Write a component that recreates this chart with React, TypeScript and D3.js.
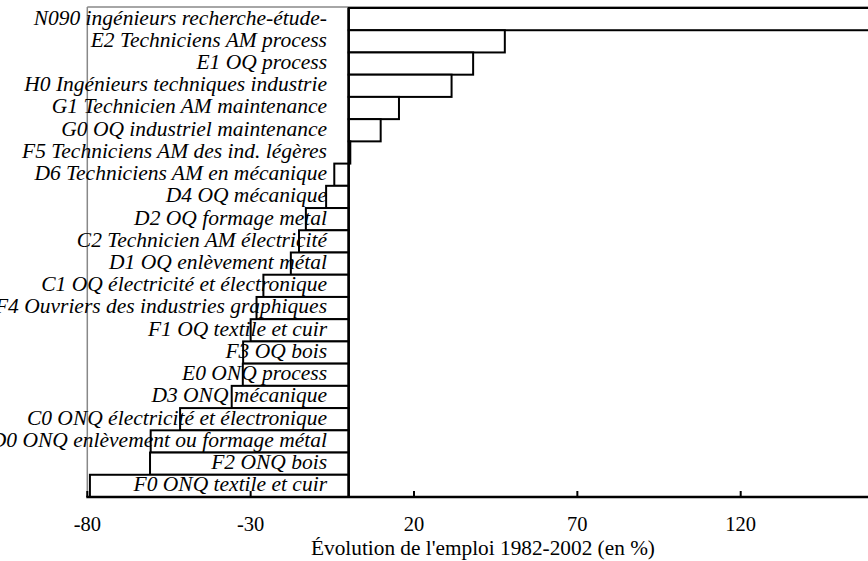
import React from "react";
import * as d3 from "d3";

const categories = [
  "N090 ingénieurs recherche-étude-",
  "E2 Techniciens AM process",
  "E1 OQ process",
  "H0 Ingénieurs techniques industrie",
  "G1 Technicien AM maintenance",
  "G0 OQ industriel maintenance",
  "F5 Techniciens AM des ind. légères",
  "D6 Techniciens AM en mécanique",
  "D4 OQ mécanique",
  "D2 OQ formage metal",
  "C2 Technicien AM électricité",
  "D1 OQ enlèvement métal",
  "C1 OQ électricité et électronique",
  "F4 Ouvriers des industries graphiques",
  "F1 OQ textile et cuir",
  "F3 OQ bois",
  "E0 ONQ process",
  "D3 ONQ mécanique",
  "C0 ONQ électricité et électronique",
  "D0 ONQ enlèvement ou formage métal",
  "F2 ONQ bois",
  "F0 ONQ textile et cuir",
];

const values = [
  175, 47.8, 38.1, 31.5, 15.4, 9.8, 0.5, -4.4, -6.9, -13.1, -15.2, -17.7,
  -26.1, -28.2, -30, -32.3, -32.4, -35.8, -51.6, -60.6, -60.8, -79.2,
];

const tickValues = [-80, -30, 20, 70, 120];
const axisTitle = "Évolution de l'emploi 1982-2002 (en %)";

const W = 868;
const H = 561;
const left = 87.3;
const top = 8;
const bottom = 497;

export default function App() {
  const x = d3.scaleLinear().domain([-80, 170]).range([left, left + 250 * 3.267]);
  const y = d3.scaleBand<string>().domain(categories).range([top, bottom]).padding(0);
  const bw = y.bandwidth();
  const serif = { fontFamily: '"Liberation Serif"' };

  return (
    <svg
      width={W}
      height={H}
      style={{ position: "absolute", left: 0, top: 0, background: "#fff" }}
    >
      {/* gray frame */}
      <line x1={left} x2={W} y1={7} y2={7} stroke="#888" strokeWidth={1.5} />
      <line x1={left} x2={left} y1={7} y2={bottom} stroke="#888" strokeWidth={1.5} />

      {/* bars */}
      {categories.map((c, i) => {
        const v = values[i];
        const x0 = x(Math.min(0, v));
        const x1 = x(Math.max(0, v));
        return (
          <rect
            key={c}
            x={x0}
            y={y(c)!}
            width={Math.max(0.5, x1 - x0)}
            height={bw}
            fill="#fff"
            stroke="#000"
            strokeWidth={2}
          />
        );
      })}

      {/* zero line */}
      <line x1={x(0)} x2={x(0)} y1={top} y2={bottom} stroke="#000" strokeWidth={2.5} />

      {/* labels */}
      {categories.map((c) => (
        <text
          key={"l" + c}
          x={327}
          y={y(c)! + 16.5}
          textAnchor="end"
          style={serif}
          fontStyle="italic"
          fontSize={21.5}
          fill="#000"
        >
          {c}
        </text>
      ))}

      {/* x axis */}
      <line x1={left - 1} x2={W} y1={bottom} y2={bottom} stroke="#000" strokeWidth={2.5} />
      {tickValues.map((t) => (
        <g key={"t" + t}>
          <line x1={x(t)} x2={x(t)} y1={bottom} y2={bottom - 6} stroke="#000" strokeWidth={2} />
          <text
            x={x(t)}
            y={531}
            textAnchor="middle"
            style={serif}
            fontSize={20.5}
            fill="#000"
          >
            {t}
          </text>
        </g>
      ))}
      <text
        x={483}
        y={555}
        textAnchor="middle"
        style={serif}
        fontSize={21.3}
        fill="#000"
      >
        {axisTitle}
      </text>
    </svg>
  );
}
